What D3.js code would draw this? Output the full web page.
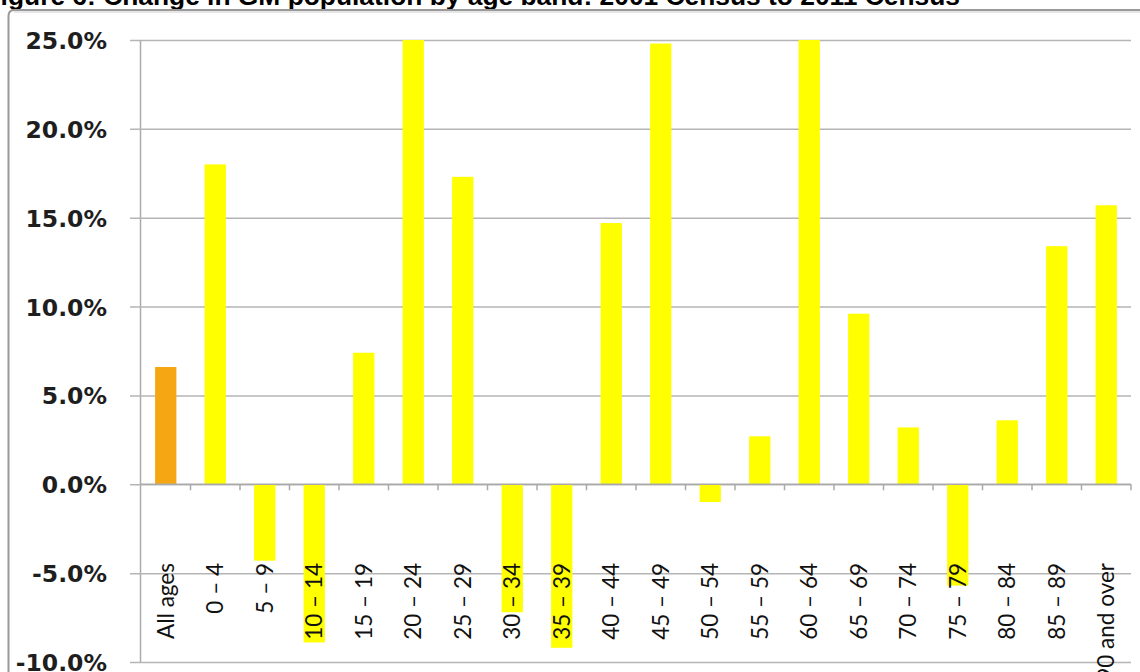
<!DOCTYPE html>
<html>
<head>
<meta charset="utf-8">
<script src="https://cdn.jsdelivr.net/npm/d3@7"></script>
<style>
  html, body { margin: 0; padding: 0; background: #fff; }
  svg { display: block; }
</style>
</head>
<body>
<svg id="chart" width="1140" height="672"></svg>
<script>
// Age bands (2001 -> 2011 Census), percentage change
const ageBands = ["All ages", "0 – 4", "5 – 9", "10 – 14", "15 – 19", "20 – 24", "25 – 29",
  "30 – 34", "35 – 39", "40 – 44", "45 – 49", "50 – 54", "55 – 59", "60 – 64",
  "65 – 69", "70 – 74", "75 – 79", "80 – 84", "85 – 89", "90 and over"];
const pctChange = [6.6, 18.0, -4.3, -8.9, 7.4, 25.0, 17.3, -7.2, -9.2, 14.7, 24.8,
  -1.0, 2.7, 25.0, 9.6, 3.2, -5.7, 3.6, 13.4, 15.7];
const yTicks = [-10, -5, 0, 5, 10, 15, 20, 25];
const titleText = "Figure 6: Change in GM population by age band: 2001 Census to 2011 Census";

const svg = d3.select("#chart");

const plot = { left: 140, right: 1131, top: 40, bottom: 662 };

const x = d3.scaleBand()
  .domain(ageBands)
  .range([plot.left + 1, plot.right])
  .paddingInner(0.57)
  .paddingOuter(0.285);

const y = d3.scaleLinear()
  .domain([-10, 25])
  .range([plot.bottom, plot.top]);

// Title, running off the left edge
const title = svg.append("text")
  .attr("y", 5)
  .attr("font-family", "'Liberation Sans', Arial, sans-serif")
  .attr("font-weight", "bold")
  .attr("font-size", 22)
  .attr("fill", "#000")
  .text(titleText);
// place the title so its right end sits at x=960 and the leading "F" falls off the page
{
  const probe = svg.append("text")
    .attr("font-family", "'Liberation Sans', Arial, sans-serif")
    .attr("font-weight", "bold").attr("font-size", 22)
    .text(titleText.slice(1));
  const restW = probe.node().getComputedTextLength();
  probe.remove();
  const fs = 22 * 960 / restW;
  title.attr("font-size", fs);
  const fullW = title.node().getComputedTextLength();
  title.attr("x", 960 - fullW);
}

// Chart frame (left and top edges visible)
svg.append("path")
  .attr("d", "M8.5,672 L8.5,16 Q8.5,10 14.5,10 L1140,10")
  .attr("fill", "none")
  .attr("stroke", "#9a9a9a")
  .attr("stroke-width", 2);
svg.append("line")
  .attr("x1", 14).attr("x2", 1140).attr("y1", 12).attr("y2", 12)
  .attr("stroke", "#e6e6e6").attr("stroke-width", 2);

// Horizontal gridlines + y ticks
const pct = d => d3.format(".1f")(d).replace("−", "-") + "%";
const yAxis = d3.axisLeft(y)
  .tickValues(yTicks)
  .tickSize(-(plot.right - plot.left))
  .tickSizeOuter(0)
  .tickFormat(pct);

const gy = svg.append("g")
  .attr("transform", `translate(${plot.left},0)`)
  .call(yAxis);
gy.select(".domain").attr("stroke", "#aaaaaa").attr("stroke-width", 1.5);
gy.selectAll(".tick line")
  .attr("stroke", "#b5b5b5").attr("stroke-width", 1.5)
  .attr("x1", -10);
gy.selectAll(".tick text")
  .attr("x", -33)
  .attr("dy", "0.36em")
  .attr("font-family", "'DejaVu Sans', Verdana, sans-serif")
  .attr("font-weight", "bold")
  .attr("font-size", 23.5)
  .attr("fill", "#1e1e1e");

// Bars
svg.append("clipPath").attr("id", "plotClip")
  .append("rect")
  .attr("x", plot.left).attr("y", plot.top)
  .attr("width", plot.right - plot.left).attr("height", plot.bottom - plot.top);

svg.append("g")
  .attr("clip-path", "url(#plotClip)")
  .selectAll("rect")
  .data(ageBands)
  .join("rect")
  .attr("x", d => x(d))
  .attr("width", x.bandwidth())
  .attr("y", (d, i) => y(Math.max(0, pctChange[i])))
  .attr("height", (d, i) => Math.abs(y(pctChange[i]) - y(0)))
  .attr("fill", (d, i) => i === 0 ? "#F6A613" : "#FFFF00");

// Category axis along zero line, ticks between bands
const step = x.step();
const boundaries = d3.range(ageBands.length + 1).map(i => plot.left + 1 + i * step);
svg.append("line")
  .attr("x1", plot.left).attr("x2", plot.right)
  .attr("y1", y(0)).attr("y2", y(0))
  .attr("stroke", "#aaaaaa").attr("stroke-width", 1.5);
svg.append("g")
  .selectAll("line")
  .data(boundaries.slice(1))
  .join("line")
  .attr("x1", d => d).attr("x2", d => d)
  .attr("y1", y(0)).attr("y2", y(0) + 6)
  .attr("stroke", "#aaaaaa").attr("stroke-width", 1.5);

// Category labels, rotated
svg.append("g")
  .selectAll("text")
  .data(ageBands)
  .join("text")
  .attr("transform", d => `translate(${x(d) + x.bandwidth() / 2},563) rotate(-90)`)
  .attr("text-anchor", "end")
  .attr("dy", "0.36em")
  .attr("font-family", "Lato, 'Open Sans', sans-serif")
  .attr("font-size", 22.5)
  .attr("fill", "#111")
  .text(d => d);
</script>
</body>
</html>
